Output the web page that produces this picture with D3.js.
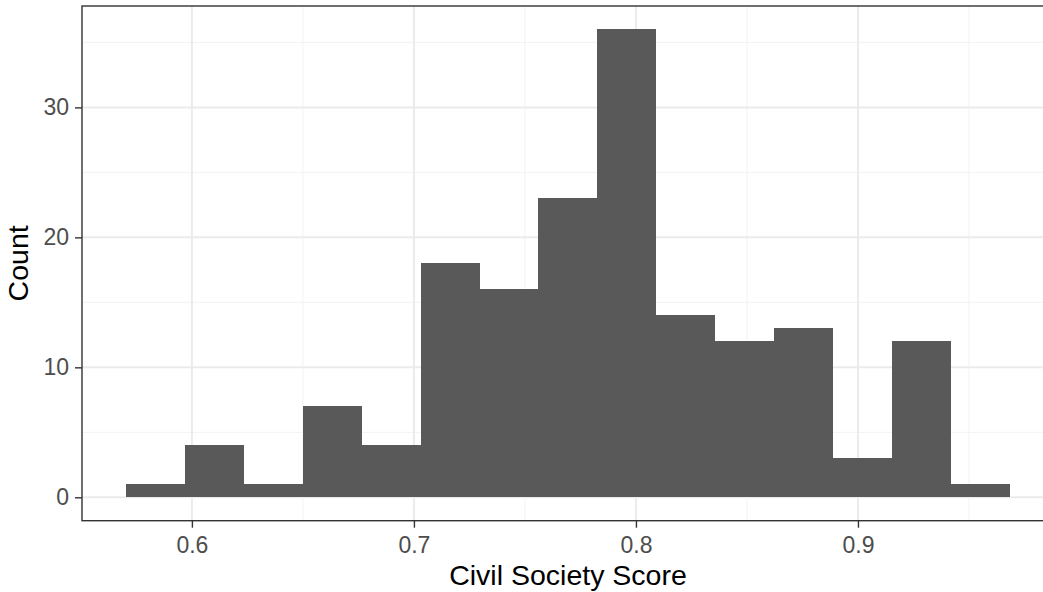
<!DOCTYPE html>
<html>
<head>
<meta charset="utf-8">
<script src="https://cdn.jsdelivr.net/npm/d3@7"></script>
<style>
  html, body { margin: 0; padding: 0; background: #ffffff; }
  svg { display: block; }
  text { font-family: "Liberation Sans", Arial, Helvetica, sans-serif; }
</style>
</head>
<body>
<div id="chart"></div>
<script>
// ---- data ----
const binEdges = [0.5704, 0.5969, 0.6234, 0.6500, 0.6765, 0.7030, 0.7296, 0.7561,
                  0.7826, 0.8092, 0.8357, 0.8622, 0.8888, 0.9153, 0.9418, 0.9684];
const counts = [1, 4, 1, 7, 4, 18, 16, 23, 36, 14, 12, 13, 3, 12, 1];
const xTicks = [0.6, 0.7, 0.8, 0.9];
const xMinor = [0.55, 0.65, 0.75, 0.85, 0.95];
const yTicks = [0, 10, 20, 30];
const yMinor = [5, 15, 25, 35];
const xTitle = "Civil Society Score";
const yTitle = "Count";

const W = 1043, H = 592;
const panel = { left: 82, right: 1054, top: 6, bottom: 520.7 };

const bins = counts.map((c, i) => ({ x0: binEdges[i], x1: binEdges[i + 1], count: c }));

const xLo = binEdges[0], xHi = binEdges[binEdges.length - 1];
const xPad = (xHi - xLo) * 0.05;
const yMax = d3.max(counts);
const yPad = yMax * 0.05;

const x = d3.scaleLinear().domain([xLo - xPad, xHi + xPad]).range([panel.left, panel.right]);
const y = d3.scaleLinear().domain([-yPad, yMax + yPad]).range([panel.bottom, panel.top]);

const svg = d3.select("#chart").append("svg")
  .attr("width", W).attr("height", H);

svg.append("rect").attr("width", W).attr("height", H).attr("fill", "#ffffff");

svg.append("defs").append("clipPath").attr("id", "pclip")
  .append("rect")
  .attr("x", panel.left).attr("y", panel.top)
  .attr("width", panel.right - panel.left).attr("height", panel.bottom - panel.top);

const grid = svg.append("g").attr("clip-path", "url(#pclip)");

// minor grid
grid.selectAll("line.xminor").data(xMinor).enter().append("line")
  .attr("x1", d => x(d)).attr("x2", d => x(d))
  .attr("y1", panel.top).attr("y2", panel.bottom)
  .attr("stroke", "#f2f2f2").attr("stroke-width", 1);
grid.selectAll("line.yminor").data(yMinor).enter().append("line")
  .attr("y1", d => y(d)).attr("y2", d => y(d))
  .attr("x1", panel.left).attr("x2", panel.right)
  .attr("stroke", "#f2f2f2").attr("stroke-width", 1);
// major grid
grid.selectAll("line.xmajor").data(xTicks).enter().append("line")
  .attr("x1", d => x(d)).attr("x2", d => x(d))
  .attr("y1", panel.top).attr("y2", panel.bottom)
  .attr("stroke", "#ebebeb").attr("stroke-width", 2);
grid.selectAll("line.ymajor").data(yTicks).enter().append("line")
  .attr("y1", d => y(d)).attr("y2", d => y(d))
  .attr("x1", panel.left).attr("x2", panel.right)
  .attr("stroke", "#ebebeb").attr("stroke-width", 2);

// bars
grid.selectAll("rect.bar").data(bins).enter().append("rect")
  .attr("class", "bar")
  .attr("x", d => x(d.x0))
  .attr("width", d => x(d.x1) - x(d.x0))
  .attr("y", d => y(d.count))
  .attr("height", d => y(0) - y(d.count))
  .attr("fill", "#595959")
  .attr("shape-rendering", "crispEdges");

// panel border
svg.append("rect")
  .attr("x", panel.left).attr("y", panel.top)
  .attr("width", panel.right - panel.left).attr("height", panel.bottom - panel.top)
  .attr("fill", "none").attr("stroke", "#333333").attr("stroke-width", 1.4);

// axes
const xAxis = d3.axisBottom(x).tickValues(xTicks).tickFormat(d3.format(".1f"))
  .tickSizeInner(7).tickSizeOuter(0).tickPadding(9);
const gx = svg.append("g").attr("transform", `translate(0,${panel.bottom})`).call(xAxis);
gx.select(".domain").remove();
gx.selectAll(".tick line").attr("stroke", "#333333").attr("stroke-width", 1.4);
gx.selectAll(".tick text").attr("fill", "#4d4d4d").style("font-size", "23px");

const yAxis = d3.axisLeft(y).tickValues(yTicks).tickFormat(d3.format("d"))
  .tickSizeInner(7).tickSizeOuter(0).tickPadding(6);
const gy = svg.append("g").attr("transform", `translate(${panel.left},0)`).call(yAxis);
gy.select(".domain").remove();
gy.selectAll(".tick line").attr("stroke", "#333333").attr("stroke-width", 1.4);
gy.selectAll(".tick text").attr("fill", "#4d4d4d").style("font-size", "23px");

// titles
svg.append("text")
  .attr("x", (panel.left + panel.right) / 2).attr("y", 585)
  .attr("text-anchor", "middle").attr("fill", "#000000")
  .style("font-size", "28.5px").text(xTitle);

svg.append("text")
  .attr("transform", `translate(28,${(panel.top + panel.bottom) / 2}) rotate(-90)`)
  .attr("text-anchor", "middle").attr("fill", "#000000")
  .style("font-size", "28.5px").text(yTitle);
</script>
</body>
</html>
